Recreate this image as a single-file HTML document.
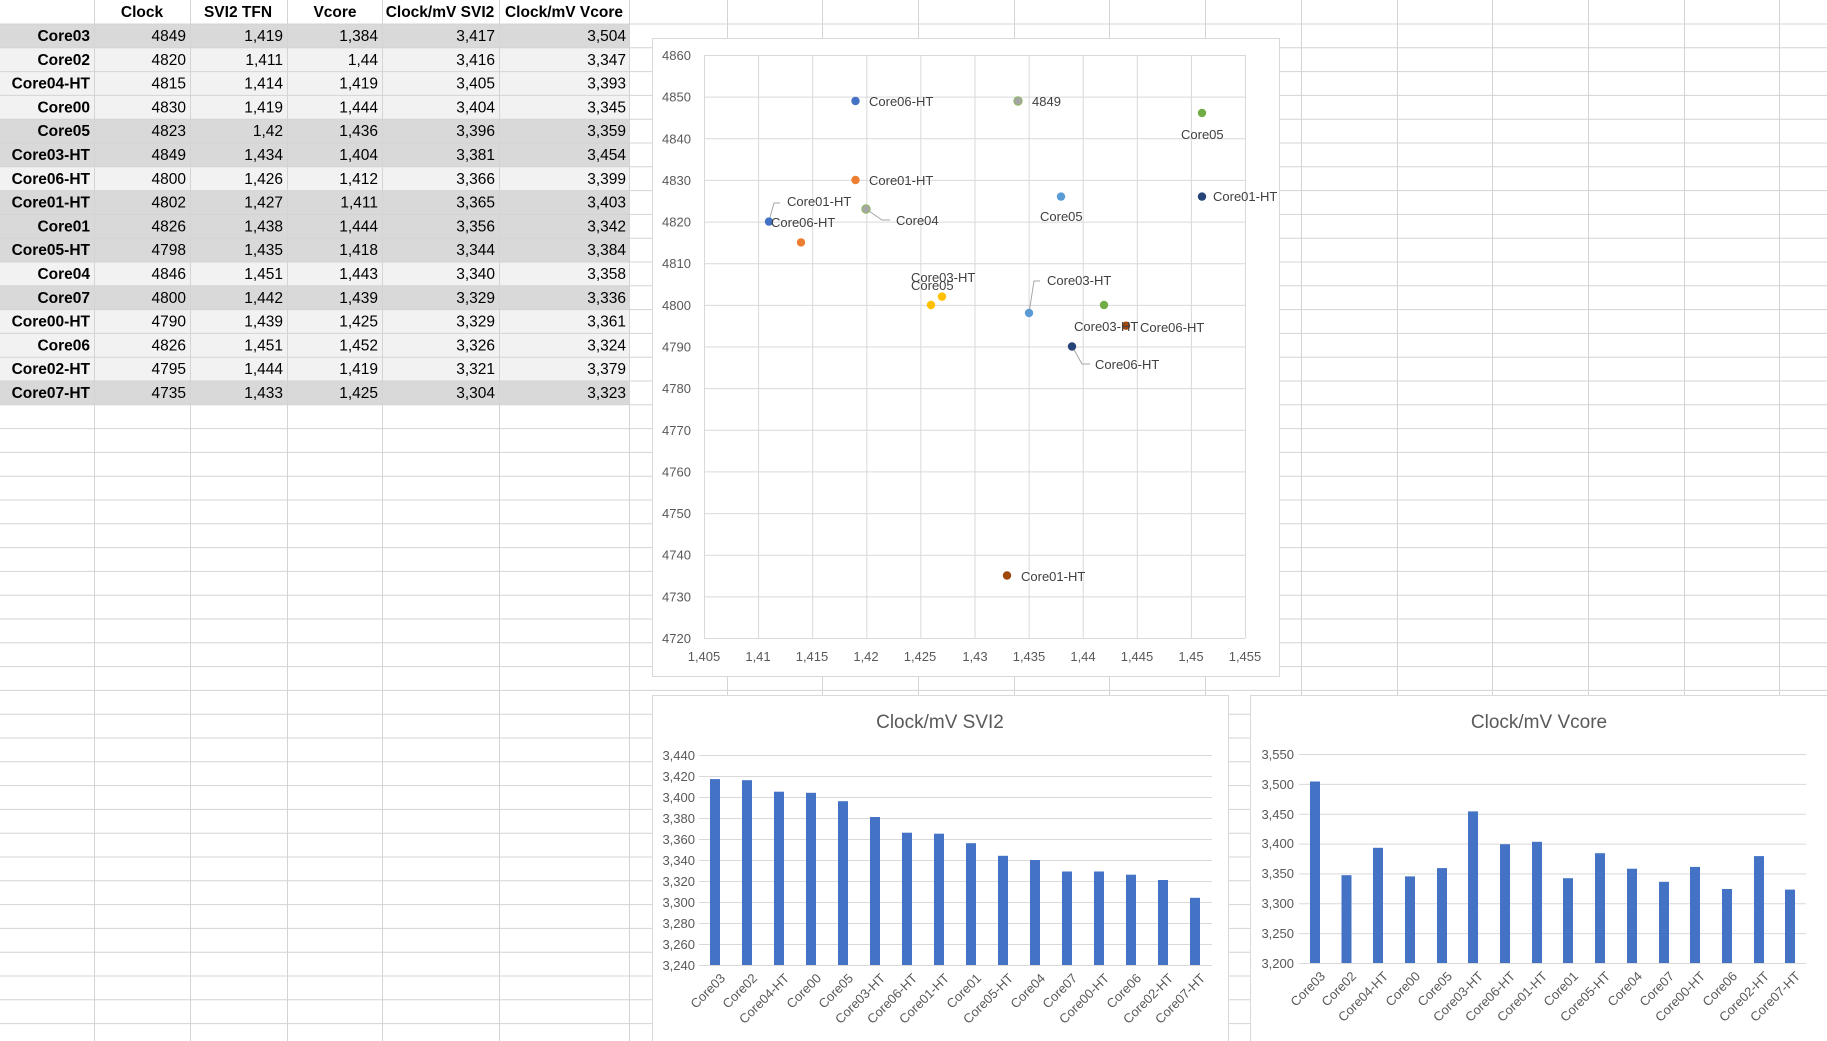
<!DOCTYPE html>
<html><head><meta charset="utf-8"><style>
html,body{margin:0;padding:0;background:#fff;}
svg{display:block;font-family:"Liberation Sans",sans-serif;}
</style></head><body>
<svg width="1827" height="1041" viewBox="0 0 1827 1041" xmlns="http://www.w3.org/2000/svg">
<g>
<rect x="0" y="24" width="629" height="23.8" fill="#d9d9d9"/>
<rect x="0" y="47.8" width="629" height="71.4" fill="#f2f2f2"/>
<rect x="0" y="119.2" width="629" height="47.6" fill="#d9d9d9"/>
<rect x="0" y="166.8" width="629" height="23.8" fill="#f2f2f2"/>
<rect x="0" y="190.6" width="629" height="71.4" fill="#d9d9d9"/>
<rect x="0" y="262" width="629" height="23.8" fill="#f2f2f2"/>
<rect x="0" y="285.8" width="629" height="23.8" fill="#d9d9d9"/>
<rect x="0" y="309.6" width="629" height="71.4" fill="#f2f2f2"/>
<rect x="0" y="381" width="629" height="23.8" fill="#d9d9d9"/>
</g>
<g stroke="#d4d4d4" stroke-width="1">
<path d="M0 24H1827M0 47.8H1827M0 71.6H1827M0 95.4H1827M0 119.2H1827M0 143H1827M0 166.8H1827M0 190.6H1827M0 214.4H1827M0 238.2H1827M0 262H1827M0 285.8H1827M0 309.6H1827M0 333.4H1827M0 357.2H1827M0 381H1827M0 404.8H1827M0 428.6H1827M0 452.4H1827M0 476.2H1827M0 500H1827M0 523.8H1827M0 547.6H1827M0 571.4H1827M0 595.2H1827M0 619H1827M0 642.8H1827M0 666.6H1827M0 690.4H1827M0 714.2H1827M0 738H1827M0 761.8H1827M0 785.6H1827M0 809.4H1827M0 833.2H1827M0 857H1827M0 880.8H1827M0 904.6H1827M0 928.4H1827M0 952.2H1827M0 976H1827M0 999.8H1827M0 1023.6H1827"/>
<path d="M94.5 0V1041M190.5 0V1041M287.5 0V1041M382.5 0V1041M499.5 0V1041M629.5 0V1041M727.5 0V1041M822.5 0V1041M918.5 0V1041M1014.5 0V1041M1109.5 0V1041M1205.5 0V1041M1301.5 0V1041M1397.5 0V1041M1492.5 0V1041M1588.5 0V1041M1684.5 0V1041M1779.5 0V1041"/>
</g>
<g font-size="15.5" font-weight="bold" fill="#000">
<text x="142" y="17" text-anchor="middle">Clock</text>
<text x="238" y="17" text-anchor="middle">SVI2 TFN</text>
<text x="335" y="17" text-anchor="middle">Vcore</text>
<text x="440" y="17" text-anchor="middle">Clock/mV SVI2</text>
<text x="564" y="17" text-anchor="middle">Clock/mV Vcore</text>
</g>
<g font-size="15.5" font-weight="bold" text-anchor="end">
<text x="90" y="41">Core03</text><text x="90" y="64.8">Core02</text><text x="90" y="88.6">Core04-HT</text><text x="90" y="112.4">Core00</text><text x="90" y="136.2">Core05</text><text x="90" y="160">Core03-HT</text><text x="90" y="183.8">Core06-HT</text><text x="90" y="207.6">Core01-HT</text><text x="90" y="231.4">Core01</text><text x="90" y="255.2">Core05-HT</text><text x="90" y="279">Core04</text><text x="90" y="302.8">Core07</text><text x="90" y="326.6">Core00-HT</text><text x="90" y="350.4">Core06</text><text x="90" y="374.2">Core02-HT</text><text x="90" y="398">Core07-HT</text>
</g>
<g font-size="15.5" text-anchor="end">
<g transform="translate(186,0)"><text y="41">4849</text><text y="64.8">4820</text><text y="88.6">4815</text><text y="112.4">4830</text><text y="136.2">4823</text><text y="160">4849</text><text y="183.8">4800</text><text y="207.6">4802</text><text y="231.4">4826</text><text y="255.2">4798</text><text y="279">4846</text><text y="302.8">4800</text><text y="326.6">4790</text><text y="350.4">4826</text><text y="374.2">4795</text><text y="398">4735</text></g>
<g transform="translate(283,0)"><text y="41">1,419</text><text y="64.8">1,411</text><text y="88.6">1,414</text><text y="112.4">1,419</text><text y="136.2">1,42</text><text y="160">1,434</text><text y="183.8">1,426</text><text y="207.6">1,427</text><text y="231.4">1,438</text><text y="255.2">1,435</text><text y="279">1,451</text><text y="302.8">1,442</text><text y="326.6">1,439</text><text y="350.4">1,451</text><text y="374.2">1,444</text><text y="398">1,433</text></g>
<g transform="translate(378,0)"><text y="41">1,384</text><text y="64.8">1,44</text><text y="88.6">1,419</text><text y="112.4">1,444</text><text y="136.2">1,436</text><text y="160">1,404</text><text y="183.8">1,412</text><text y="207.6">1,411</text><text y="231.4">1,444</text><text y="255.2">1,418</text><text y="279">1,443</text><text y="302.8">1,439</text><text y="326.6">1,425</text><text y="350.4">1,452</text><text y="374.2">1,419</text><text y="398">1,425</text></g>
<g transform="translate(495,0)"><text y="41">3,417</text><text y="64.8">3,416</text><text y="88.6">3,405</text><text y="112.4">3,404</text><text y="136.2">3,396</text><text y="160">3,381</text><text y="183.8">3,366</text><text y="207.6">3,365</text><text y="231.4">3,356</text><text y="255.2">3,344</text><text y="279">3,340</text><text y="302.8">3,329</text><text y="326.6">3,329</text><text y="350.4">3,326</text><text y="374.2">3,321</text><text y="398">3,304</text></g>
<g transform="translate(626,0)"><text y="41">3,504</text><text y="64.8">3,347</text><text y="88.6">3,393</text><text y="112.4">3,345</text><text y="136.2">3,359</text><text y="160">3,454</text><text y="183.8">3,399</text><text y="207.6">3,403</text><text y="231.4">3,342</text><text y="255.2">3,384</text><text y="279">3,358</text><text y="302.8">3,336</text><text y="326.6">3,361</text><text y="350.4">3,324</text><text y="374.2">3,379</text><text y="398">3,323</text></g>
</g>

<rect x="652.5" y="38.5" width="627" height="638" fill="#fff" stroke="#d9d9d9"/>
<g stroke="#d9d9d9" stroke-width="1">
<path d="M704 55.5H1245M704 97.1H1245M704 138.8H1245M704 180.4H1245M704 222.1H1245M704 263.7H1245M704 305.4H1245M704 347H1245M704 388.6H1245M704 430.3H1245M704 471.9H1245M704 513.6H1245M704 555.2H1245M704 596.9H1245M704 638.5H1245"/>
<path d="M704.5 55V638M758.6 55V638M812.7 55V638M866.8 55V638M920.9 55V638M975 55V638M1029.1 55V638M1083.2 55V638M1137.3 55V638M1191.4 55V638M1245.5 55V638"/>
</g>
<g font-size="13" fill="#595959">
<text x="662" y="60">4860</text><text x="662" y="101.6">4850</text><text x="662" y="143.3">4840</text><text x="662" y="184.9">4830</text><text x="662" y="226.6">4820</text><text x="662" y="268.2">4810</text><text x="662" y="309.9">4800</text><text x="662" y="351.5">4790</text><text x="662" y="393.1">4780</text><text x="662" y="434.8">4770</text><text x="662" y="476.4">4760</text><text x="662" y="518.1">4750</text><text x="662" y="559.7">4740</text><text x="662" y="601.4">4730</text><text x="662" y="643">4720</text>
</g>
<g font-size="13" fill="#595959" text-anchor="middle">
<text x="704" y="661">1,405</text><text x="758" y="661">1,41</text><text x="812" y="661">1,415</text><text x="866" y="661">1,42</text><text x="920" y="661">1,425</text><text x="975" y="661">1,43</text><text x="1029" y="661">1,435</text><text x="1083" y="661">1,44</text><text x="1137" y="661">1,445</text><text x="1191" y="661">1,45</text><text x="1245" y="661">1,455</text>
</g>
<g stroke="#a6a6a6" fill="none" stroke-width="1">
<path d="M769 221L774 203H780"/>
<path d="M866 209L882 220H890"/>
<path d="M1029 313L1034 281H1040"/>
<path d="M1072 346L1082 364H1090"/>
</g>
<g>
<circle cx="855.5" cy="101" r="4.2" fill="#4472c4"/>
<circle cx="1018" cy="101" r="4.2" fill="#a5a5a5" stroke="#8fbc60" stroke-width="1"/>
<circle cx="1202" cy="113" r="4.2" fill="#70ad47"/>
<circle cx="855.5" cy="180" r="4.2" fill="#ed7d31"/>
<circle cx="769" cy="221.6" r="4.2" fill="#4472c4"/>
<circle cx="866" cy="209" r="4.2" fill="#a5a5a5" stroke="#8fbc60" stroke-width="1"/>
<circle cx="801" cy="242.4" r="4.2" fill="#ed7d31"/>
<circle cx="1061" cy="196.6" r="4.2" fill="#5b9bd5"/>
<circle cx="1202" cy="196.6" r="4.2" fill="#264478"/>
<circle cx="931" cy="305" r="4.2" fill="#ffc000"/>
<circle cx="942" cy="296.6" r="4.2" fill="#ffc000"/>
<circle cx="1029" cy="313" r="4.2" fill="#5b9bd5"/>
<circle cx="1104" cy="305" r="4.2" fill="#70ad47"/>
<circle cx="1126" cy="325.7" r="4.2" fill="#9e480e"/>
<circle cx="1072" cy="346.5" r="4.2" fill="#264478"/>
<circle cx="1007" cy="575.5" r="4.2" fill="#9e480e"/>
</g>
<g font-size="13" fill="#404040">
<text x="869" y="106">Core06-HT</text>
<text x="1032" y="106">4849</text>
<text x="1181" y="139">Core05</text>
<text x="869" y="185">Core01-HT</text>
<text x="787" y="206">Core01-HT</text>
<text x="771" y="227">Core06-HT</text>
<text x="896" y="225">Core04</text>
<text x="1040" y="221">Core05</text>
<text x="1213" y="201">Core01-HT</text>
<text x="911" y="282">Core03-HT</text>
<text x="911" y="290">Core05</text>
<text x="1047" y="285">Core03-HT</text>
<text x="1074" y="331">Core03-HT</text>
<text x="1140" y="332">Core06-HT</text>
<text x="1095" y="369">Core06-HT</text>
<text x="1021" y="581">Core01-HT</text>
</g>

<rect x="652.5" y="695.5" width="576" height="350" fill="#fff" stroke="#d9d9d9"/>
<text x="940" y="728" font-size="19" fill="#595959" text-anchor="middle">Clock/mV SVI2</text>
<g stroke="#d9d9d9"><path d="M699 755.5H1212M699 776.5H1212M699 797.5H1212M699 818.5H1212M699 839.5H1212M699 860.5H1212M699 881.5H1212M699 902.5H1212M699 923.5H1212M699 944.5H1212M699 965.5H1212"/></g>
<g font-size="13" fill="#595959" text-anchor="end">
<text x="695" y="760">3,440</text><text x="695" y="781">3,420</text><text x="695" y="802">3,400</text><text x="695" y="823">3,380</text><text x="695" y="844">3,360</text><text x="695" y="865">3,340</text><text x="695" y="886">3,320</text><text x="695" y="907">3,300</text><text x="695" y="928">3,280</text><text x="695" y="949">3,260</text><text x="695" y="970">3,240</text>
</g>
<g fill="#4472c4">
<rect x="710" y="779.1" width="10" height="185.9"/><rect x="742" y="780.2" width="10" height="184.8"/><rect x="774" y="791.7" width="10" height="173.3"/><rect x="806" y="792.8" width="10" height="172.2"/><rect x="838" y="801.2" width="10" height="163.8"/><rect x="870" y="817" width="10" height="148"/><rect x="902" y="832.7" width="10" height="132.3"/><rect x="934" y="833.7" width="10" height="131.3"/><rect x="966" y="843.2" width="10" height="121.8"/><rect x="998" y="855.8" width="10" height="109.2"/><rect x="1030" y="860" width="10" height="105"/><rect x="1062" y="871.5" width="10" height="93.5"/><rect x="1094" y="871.5" width="10" height="93.5"/><rect x="1126" y="874.7" width="10" height="90.3"/><rect x="1158" y="880" width="10" height="85"/><rect x="1190" y="897.8" width="10" height="67.2"/>
</g>
<g font-size="13" fill="#595959" text-anchor="end">
<text transform="translate(726,979) rotate(-45)">Core03</text><text transform="translate(758,979) rotate(-45)">Core02</text><text transform="translate(790,979) rotate(-45)">Core04-HT</text><text transform="translate(822,979) rotate(-45)">Core00</text><text transform="translate(854,979) rotate(-45)">Core05</text><text transform="translate(886,979) rotate(-45)">Core03-HT</text><text transform="translate(918,979) rotate(-45)">Core06-HT</text><text transform="translate(950,979) rotate(-45)">Core01-HT</text><text transform="translate(982,979) rotate(-45)">Core01</text><text transform="translate(1014,979) rotate(-45)">Core05-HT</text><text transform="translate(1046,979) rotate(-45)">Core04</text><text transform="translate(1078,979) rotate(-45)">Core07</text><text transform="translate(1110,979) rotate(-45)">Core00-HT</text><text transform="translate(1142,979) rotate(-45)">Core06</text><text transform="translate(1174,979) rotate(-45)">Core02-HT</text><text transform="translate(1206,979) rotate(-45)">Core07-HT</text>
</g>

<rect x="1250.5" y="695.5" width="580" height="350" fill="#fff" stroke="#d9d9d9"/>
<text x="1539" y="728" font-size="19" fill="#595959" text-anchor="middle">Clock/mV Vcore</text>
<g stroke="#d9d9d9"><path d="M1299 754.5H1806M1299 784.4H1806M1299 814.2H1806M1299 844.1H1806M1299 873.9H1806M1299 903.8H1806M1299 933.6H1806M1299 963.5H1806"/></g>
<g font-size="13" fill="#595959" text-anchor="end">
<text x="1294" y="759">3,550</text><text x="1294" y="789">3,500</text><text x="1294" y="819">3,450</text><text x="1294" y="848">3,400</text><text x="1294" y="878">3,350</text><text x="1294" y="908">3,300</text><text x="1294" y="938">3,250</text><text x="1294" y="968">3,200</text>
</g>
<g fill="#4472c4">
<rect x="1310" y="781.5" width="10" height="181.5"/><rect x="1341.5" y="875.2" width="10" height="87.8"/><rect x="1373" y="847.8" width="10" height="115.2"/><rect x="1405" y="876.4" width="10" height="86.6"/><rect x="1437" y="868.1" width="10" height="94.9"/><rect x="1468" y="811.4" width="10" height="151.6"/><rect x="1500" y="844.2" width="10" height="118.8"/><rect x="1532" y="841.8" width="10" height="121.2"/><rect x="1563" y="878.2" width="10" height="84.8"/><rect x="1595" y="853.2" width="10" height="109.8"/><rect x="1627" y="868.7" width="10" height="94.3"/><rect x="1659" y="881.8" width="10" height="81.2"/><rect x="1690" y="866.9" width="10" height="96.1"/><rect x="1722" y="889" width="10" height="74"/><rect x="1754" y="856.1" width="10" height="106.9"/><rect x="1785" y="889.6" width="10" height="73.4"/>
</g>
<g font-size="13" fill="#595959" text-anchor="end">
<text transform="translate(1326,977) rotate(-45)">Core03</text><text transform="translate(1357,977) rotate(-45)">Core02</text><text transform="translate(1389,977) rotate(-45)">Core04-HT</text><text transform="translate(1421,977) rotate(-45)">Core00</text><text transform="translate(1453,977) rotate(-45)">Core05</text><text transform="translate(1484,977) rotate(-45)">Core03-HT</text><text transform="translate(1516,977) rotate(-45)">Core06-HT</text><text transform="translate(1548,977) rotate(-45)">Core01-HT</text><text transform="translate(1579,977) rotate(-45)">Core01</text><text transform="translate(1611,977) rotate(-45)">Core05-HT</text><text transform="translate(1643,977) rotate(-45)">Core04</text><text transform="translate(1675,977) rotate(-45)">Core07</text><text transform="translate(1706,977) rotate(-45)">Core00-HT</text><text transform="translate(1738,977) rotate(-45)">Core06</text><text transform="translate(1770,977) rotate(-45)">Core02-HT</text><text transform="translate(1801,977) rotate(-45)">Core07-HT</text>
</g>
</svg>
</body></html>
